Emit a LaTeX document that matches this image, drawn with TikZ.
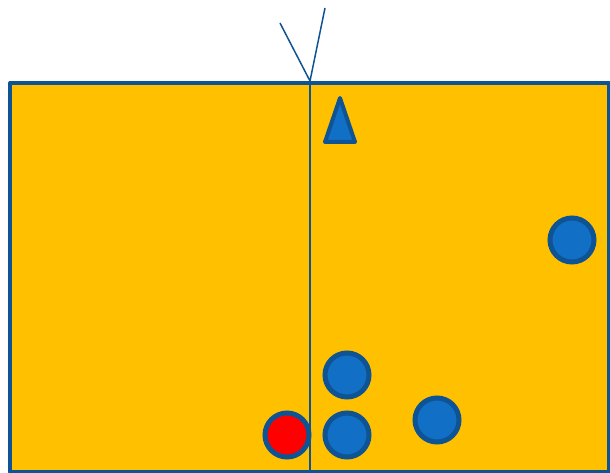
\documentclass[tikz,border=0pt]{standalone}
\usetikzlibrary{shapes.geometric}
\definecolor{fieldorange}{HTML}{FFC000}
\definecolor{edgeblue}{HTML}{0E5494}
\definecolor{ballblue}{HTML}{1170C6}
\definecolor{ballred}{HTML}{FF0000}
\tikzset{
  ball/.style={circle, minimum size=44pt, inner sep=0pt, line width=5pt, draw=edgeblue, fill=ballblue},
  redball/.style={ball, fill=ballred},
  thinline/.style={draw=edgeblue, line width=1.5pt},
}
\begin{document}
\begin{tikzpicture}[x=1pt,y=-1pt]
\useasboundingbox (0,0) rectangle (610,473);
% field
\coordinate (tl) at (10,83);
\coordinate (br) at (609,472);
\filldraw[fill=fieldorange, draw=edgeblue, line width=4pt, line join=round] (tl) rectangle (br);
% middle line
\coordinate (mtop) at (310,81);
\coordinate (mbot) at (310,472);
\draw[thinline] (mtop) -- (mbot);
% two lines above
\coordinate (la) at (280,23);
\coordinate (ra) at (325,8);
\draw[thinline, line join=miter] (la) -- (mtop) -- (ra);
% cone
\coordinate (t1) at (340,98);
\coordinate (t2) at (325,142);
\coordinate (t3) at (355,142);
\filldraw[fill=ballblue, draw=edgeblue, line width=4pt, line join=round] (t1) -- (t2) -- (t3) -- cycle;
% balls
\node[ball] (b1) at (572,240) {};
\node[ball] (b2) at (347,375) {};
\node[ball] (b3) at (347,435) {};
\node[ball] (b4) at (437,420) {};
\node[redball] (r1) at (287,435) {};
\end{tikzpicture}
\end{document}
